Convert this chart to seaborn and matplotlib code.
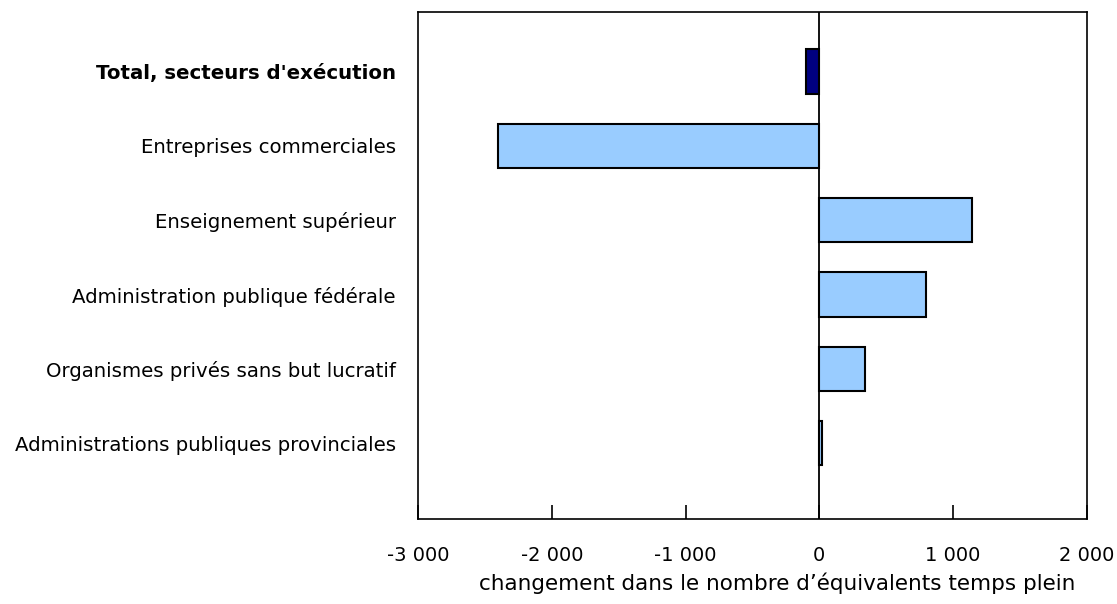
import matplotlib
matplotlib.use("Agg")
import matplotlib.pyplot as plt
import seaborn as sns
import pandas as pd

categories = [
    "Total, secteurs d'exécution",
    "Entreprises commerciales",
    "Enseignement supérieur",
    "Administration publique fédérale",
    "Organismes privés sans but lucratif",
    "Administrations publiques provinciales",
]
values = [-100, -2400, 1140, 800, 340, 20]
bar_colors = ["#000080", "#99CCFF", "#99CCFF", "#99CCFF", "#99CCFF", "#99CCFF"]
xticks = [-3000, -2000, -1000, 0, 1000, 2000]
xtick_labels = ["-3 000", "-2 000", "-1 000", "0", "1 000", "2 000"]
xlabel = "changement dans le nombre d’équivalents temps plein"

sns.set_theme(style="white")
plt.rcParams['font.family'] = ['DejaVu Sans']
plt.rcParams['text.color'] = 'black'
plt.rcParams['xtick.color'] = 'black'
plt.rcParams['ytick.color'] = 'black'
plt.rcParams['axes.labelcolor'] = 'black'

df = pd.DataFrame({"cat": categories, "val": values})

fig = plt.figure(figsize=(11.17, 6.04), dpi=100)
ax = fig.add_axes([0.3742, 0.1407, 0.9731 - 0.3742, 0.9801 - 0.1407])

sns.barplot(data=df, y="cat", x="val", hue="cat", palette=bar_colors,
            order=categories, hue_order=categories, orient="h", saturation=1,
            width=0.6, edgecolor="black", linewidth=1.5, legend=False, ax=ax)

ax.axvline(0, color="black", linewidth=1.3, zorder=0.5)
ax.set_xlim(-3000, 2000)
ax.set_ylim(6.02, -0.8)
ax.set_xticks(xticks)
ax.set_xticklabels(xtick_labels, fontsize=14)
ax.tick_params(axis="x", direction="in", length=10, width=1.2, color="black", pad=19.5, bottom=True)
ax.tick_params(axis="y", length=0, pad=16, labelsize=14.2)
ax.set_ylabel("")
ax.set_xlabel(xlabel, fontsize=15.5)
ax.xaxis.set_label_coords((777 - 418) / 669, -(583 - 519) / 507)
ax.xaxis.label.set_va("center")
for lab in ax.get_yticklabels():
    if lab.get_text().startswith("Total"):
        lab.set_fontweight("bold")
for s in ax.spines.values():
    s.set_color("black")
    s.set_linewidth(1.2)

fig.savefig("out.png", dpi=100)
